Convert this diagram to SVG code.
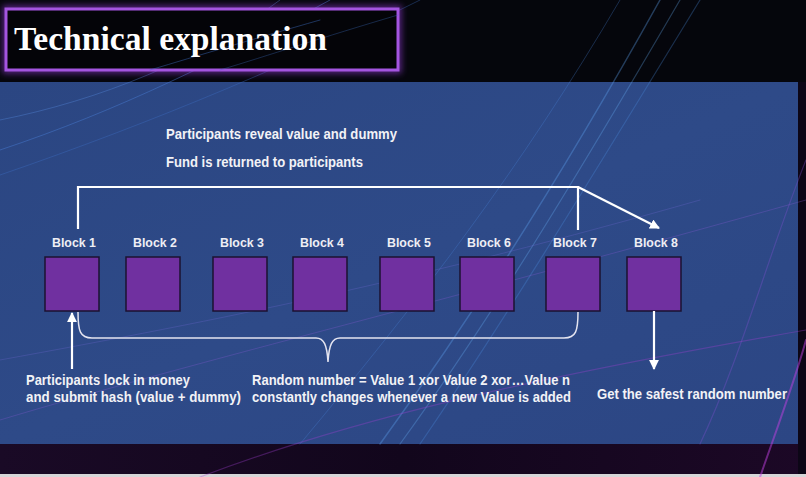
<svg xmlns="http://www.w3.org/2000/svg" width="806" height="477" viewBox="0 0 806 477">
  <defs>
    <linearGradient id="panelGrad" x1="0" y1="0" x2="1" y2="1">
      <stop offset="0" stop-color="#2b4682"/>
      <stop offset="0.5" stop-color="#2e4a88"/>
      <stop offset="1" stop-color="#2c4684"/>
    </linearGradient>
    <linearGradient id="bottomGrad" x1="0" y1="0" x2="1" y2="0">
      <stop offset="0" stop-color="#1a0a26"/>
      <stop offset="0.5" stop-color="#12061c"/>
      <stop offset="1" stop-color="#1c0826"/>
    </linearGradient>
    <filter id="glow" x="-10%" y="-30%" width="120%" height="160%">
      <feGaussianBlur stdDeviation="3"/>
    </filter>
    <marker id="arrow" viewBox="0 0 10 10" refX="9" refY="5" markerWidth="4.5" markerHeight="4.5" orient="auto" markerUnits="strokeWidth">
      <path d="M0,0 L10,5 L0,10 Z" fill="#ffffff"/>
    </marker>
    <style>
      .blk { fill: #7030a0; stroke: #1b1230; stroke-width: 1.5; }
      .lbl { font-family: "Liberation Sans", Arial, sans-serif; font-weight: bold; font-size: 13.5px; fill: #eeeef4; text-anchor: middle; }
      .txt { font-family: "Liberation Sans", Arial, sans-serif; font-weight: bold; font-size: 14.5px; fill: #f2f2f6; }
      .conn { fill: none; stroke: #ffffff; stroke-width: 2.2; }
      .brace { fill: none; stroke: #e4e4f0; stroke-width: 1.5; }
      .streak { fill: none; stroke-linecap: round; }
    </style>
  </defs>

  <!-- background -->
  <g id="background">
    <rect x="0" y="0" width="806" height="477" fill="#05060c"/>
    <rect x="0" y="82" width="798" height="362" fill="url(#panelGrad)"/>
    <rect x="0" y="444" width="806" height="30" fill="url(#bottomGrad)"/>
    <rect x="798" y="82" width="8" height="392" fill="#0c0616"/>
    <rect x="0" y="474" width="806" height="3" fill="#d6d6d8"/>
    <!-- decorative streaks -->
    <path class="streak" d="M0,150 C120,110 220,60 330,0" stroke="#4a7fd6" stroke-width="1" opacity="0.45"/>
    <path class="streak" d="M0,120 C100,100 200,60 280,0" stroke="#5a90e6" stroke-width="1" opacity="0.35"/>
    <path class="streak" d="M0,175 C160,120 300,60 420,0" stroke="#3f74cc" stroke-width="1" opacity="0.35"/>
    <path class="streak" d="M380,444 C470,320 560,180 660,0" stroke="#5fa3f0" stroke-width="1.5" opacity="0.35"/>
    <path class="streak" d="M400,444 C490,320 575,180 680,0" stroke="#6ab4f8" stroke-width="1.2" opacity="0.3"/>
    <path class="streak" d="M420,444 C505,320 590,180 700,0" stroke="#4d8fe0" stroke-width="1.2" opacity="0.3"/>
    <path class="streak" d="M300,444 C420,300 520,170 620,0" stroke="#4a86dc" stroke-width="1" opacity="0.3"/>
    <path class="streak" d="M0,420 C200,360 450,300 806,200" stroke="#8a5ad8" stroke-width="1" opacity="0.3"/>
    <path class="streak" d="M0,360 C220,320 420,280 700,200" stroke="#7a6ae0" stroke-width="1" opacity="0.25"/>
    <path class="streak" d="M200,477 C350,420 520,380 806,330" stroke="#a040d0" stroke-width="1.2" opacity="0.35"/>
    <path class="streak" d="M700,444 C740,360 770,250 806,160" stroke="#8050d0" stroke-width="1.2" opacity="0.35"/>
    <path class="streak" d="M760,477 C780,420 795,380 806,340" stroke="#c040e0" stroke-width="2" opacity="0.5"/>
  </g>

  <!-- title -->
  <g id="title">
    <rect x="6" y="9" width="392" height="61" fill="none" stroke="#a040e8" stroke-width="7" opacity="0.55" filter="url(#glow)"/>
    <rect x="6" y="9" width="392" height="61" fill="#040408" stroke="#a455e0" stroke-width="3"/>
    <path class="streak" d="M150,70 C200,55 250,40 320,20" stroke="#3c6cc0" stroke-width="1" opacity="0.45"/>
    <path class="streak" d="M220,70 C270,55 320,38 398,15" stroke="#3c6cc0" stroke-width="1" opacity="0.35"/>
    <text x="14" y="50" font-family="'Liberation Serif', 'Times New Roman', serif" font-weight="bold" font-size="33.5" fill="#ffffff" textLength="313" lengthAdjust="spacingAndGlyphs">Technical explanation</text>
  </g>

  <!-- top texts -->
  <g id="reveal-text">
    <text class="txt" x="166" y="139" textLength="231" lengthAdjust="spacingAndGlyphs">Participants reveal value and dummy</text>
    <text class="txt" x="166" y="167" textLength="197" lengthAdjust="spacingAndGlyphs">Fund is returned to participants</text>
  </g>

  <!-- blocks -->
  <g id="block1"><rect class="blk" x="45" y="257" width="54" height="54"/><text class="lbl" x="74" y="247" textLength="44" lengthAdjust="spacingAndGlyphs">Block 1</text></g>
  <g id="block2"><rect class="blk" x="126" y="257" width="54" height="54"/><text class="lbl" x="155" y="247" textLength="44" lengthAdjust="spacingAndGlyphs">Block 2</text></g>
  <g id="block3"><rect class="blk" x="213" y="257" width="54" height="54"/><text class="lbl" x="242" y="247" textLength="44" lengthAdjust="spacingAndGlyphs">Block 3</text></g>
  <g id="block4"><rect class="blk" x="293" y="257" width="54" height="54"/><text class="lbl" x="322" y="247" textLength="44" lengthAdjust="spacingAndGlyphs">Block 4</text></g>
  <g id="block5"><rect class="blk" x="380" y="257" width="54" height="54"/><text class="lbl" x="409" y="247" textLength="44" lengthAdjust="spacingAndGlyphs">Block 5</text></g>
  <g id="block6"><rect class="blk" x="460" y="257" width="54" height="54"/><text class="lbl" x="489" y="247" textLength="44" lengthAdjust="spacingAndGlyphs">Block 6</text></g>
  <g id="block7"><rect class="blk" x="546" y="257" width="54" height="54"/><text class="lbl" x="575" y="247" textLength="44" lengthAdjust="spacingAndGlyphs">Block 7</text></g>
  <g id="block8"><rect class="blk" x="627" y="257" width="54" height="54"/><text class="lbl" x="656" y="247" textLength="44" lengthAdjust="spacingAndGlyphs">Block 8</text></g>

  <!-- connectors -->
  <g id="connectors">
    <path class="conn" d="M78,229 V187 H578 V230"/>
    <path class="conn" d="M578,187 L659,228" marker-end="url(#arrow)"/>
    <path class="conn" d="M72,369 V313" marker-end="url(#arrow)"/>
    <path class="conn" d="M654,311 V369" marker-end="url(#arrow)"/>
    <path class="brace" d="M78,312 C78,331 80,338 92,338 H316 C324,338 327,345 328,362 C329,345 332,338 340,338 H564 C576,338 578,331 578,312"/>
  </g>

  <!-- bottom texts -->
  <g id="lock-text">
    <text class="txt" x="26" y="385" textLength="164" lengthAdjust="spacingAndGlyphs">Participants lock in money</text>
    <text class="txt" x="26" y="402" textLength="215" lengthAdjust="spacingAndGlyphs">and submit hash (value + dummy)</text>
  </g>
  <g id="random-text">
    <text class="txt" x="252" y="385" textLength="318" lengthAdjust="spacingAndGlyphs">Random number = Value 1 xor Value 2 xor…Value n</text>
    <text class="txt" x="252" y="402" textLength="319" lengthAdjust="spacingAndGlyphs">constantly changes whenever a new Value is added</text>
  </g>
  <g id="result-text">
    <text class="txt" x="597" y="399" textLength="190" lengthAdjust="spacingAndGlyphs">Get the safest random number</text>
  </g>
</svg>
